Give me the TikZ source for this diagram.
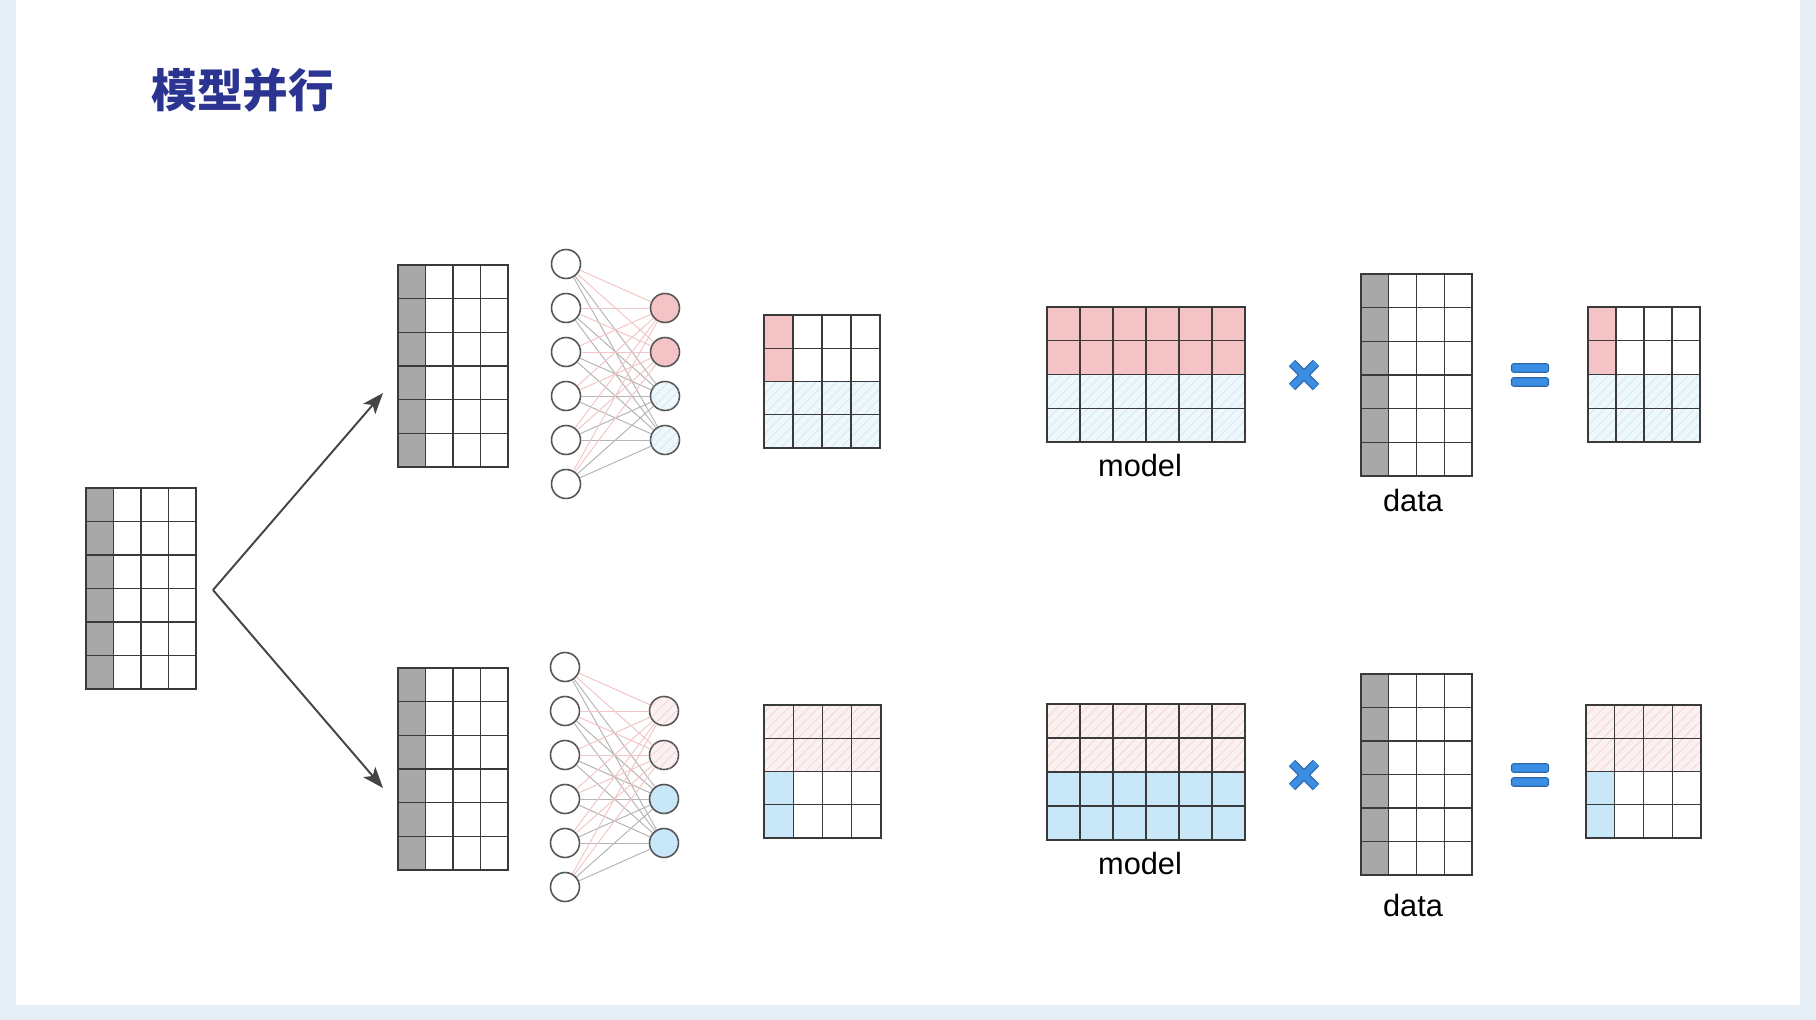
\documentclass[tikz,border=0pt]{standalone}
\usepackage{fontspec}
\setmainfont{Liberation Sans}
\newfontfamily\cjk{Noto Sans CJK SC}
\usetikzlibrary{patterns.meta,arrows.meta}
\definecolor{pinkf}{HTML}{F4C3C5}
\definecolor{bluef}{HTML}{C8E7F9}
\definecolor{bluelight}{HTML}{EEF8FC}
\definecolor{bluehatch}{HTML}{B3DAEA}
\definecolor{pinklight}{HTML}{FCF1F1}
\definecolor{pinkhatch}{HTML}{EBBDBD}
\definecolor{grayf}{HTML}{A8A8A8}
\definecolor{gridc}{HTML}{3A3A3A}
\definecolor{titlec}{HTML}{2B3490}
\definecolor{xblue}{HTML}{3C8EE3}
\definecolor{xdark}{HTML}{2A68AE}
\definecolor{edgepink}{HTML}{F2C6C6}
\definecolor{edgegray}{HTML}{B5B5B5}
\definecolor{circd}{HTML}{555555}
\definecolor{slidebg}{HTML}{E6EFF6}
\definecolor{arrc}{HTML}{444444}
\newcommand\mgrid[7]{%
  \node[matnode, minimum width={#4*0.02cm}, minimum height={#5*0.02cm}] (#1) at ({#2+#4/2},{#3+#5/2}) {};
  \foreach \ii in {0,...,#6} \draw[gl] ({#2+\ii*#4/#6},#3) -- ++(0,#5);
  \foreach \jj in {0,...,#7} \draw[gl] (#2,{#3+\jj*#5/#7}) -- ++(#4,0);
}
\begin{document}
\begin{tikzpicture}[x=0.02cm,y=-0.02cm,
  gl/.style={draw=gridc, line width=0.75pt, line cap=rect},
  matnode/.style={rectangle, draw=none, inner sep=0pt, outer sep=0pt},
  grayc/.style={fill=grayf},
  pinkc/.style={fill=pinkf},
  bluec/.style={fill=bluef},
  hblue/.style={fill=bluelight, postaction={pattern={Lines[angle=45,distance=4pt,line width=0.35pt]}, pattern color=bluehatch}},
  hpink/.style={fill=pinklight, postaction={pattern={Lines[angle=45,distance=4pt,line width=0.35pt]}, pattern color=pinkhatch}},
  neuron/.style={circle, draw=circd, line width=0.9pt, minimum size=0.58cm, inner sep=0pt, fill=white},
  npink/.style={neuron, fill=pinkf},
  nblue/.style={neuron, fill=bluef},
  nhblue/.style={neuron, hblue},
  nhpink/.style={neuron, hpink},
  epink/.style={draw=edgepink, line width=0.55pt},
  egray/.style={draw=edgegray, line width=0.55pt},
  arr/.style={draw=arrc, line width=1.1pt, -{Stealth[length=12pt,width=9pt,inset=3pt]}},
  lbl/.style={font=\fontsize{17.5}{20}\selectfont, text=black, inner sep=0pt},
  xsym/.style={line width=5.2pt, draw=xdark},
  xsymin/.style={line width=3.8pt, draw=xblue},
  eqbar/.style={fill=xblue, draw=xdark, line width=0.6pt, rounded corners=1.2pt}
]
\useasboundingbox (0,0) rectangle (1816,1020);
\fill[slidebg] (0,0) rectangle (1816,1020);
\fill[white] (16,0) rectangle (1800,1005);

% title
\node[anchor=west, font=\cjk\bfseries\fontsize{26}{30}\selectfont, text=titlec, inner sep=0pt] (title) at (151,90) {模型并行};

% ---------- input matrix ----------
\fill[grayc] (86,488) rectangle (113.5,689);
\mgrid{L}{86}{488}{110}{201}{4}{6}

% ---------- branch matrices ----------
\fill[grayc] (398,265) rectangle (425.5,467);
\mgrid{T1}{398}{265}{110}{202}{4}{6}
\fill[grayc] (398,668) rectangle (425.5,870);
\mgrid{B1}{398}{668}{110}{202}{4}{6}

% arrows
\coordinate (split) at (213,590);
\coordinate (tend) at (383,393);
\coordinate (bend) at (383,788);
\draw[arr] (split) -- (tend);
\draw[arr] (split) -- (bend);

% ---------- networks ----------
\foreach \k/\yy in {1/264,2/308,3/352,4/396,5/440,6/484}
  \node[neuron] (ta\k) at (566,\yy) {};
\node[npink] (tb1) at (665,308) {};
\node[npink] (tb2) at (665,352) {};
\node[nhblue] (tb3) at (665,396) {};
\node[nhblue] (tb4) at (665,440) {};
\foreach \k in {1,...,6}{
  \foreach \m in {3,4} \draw[egray] (ta\k) -- (tb\m);
  \foreach \m in {1,2} \draw[epink] (ta\k) -- (tb\m);
}

\foreach \k/\yy in {1/667,2/711,3/755,4/799,5/843,6/887}
  \node[neuron] (ba\k) at (565,\yy) {};
\node[nhpink] (bb1) at (664,711) {};
\node[nhpink] (bb2) at (664,755) {};
\node[nblue] (bb3) at (664,799) {};
\node[nblue] (bb4) at (664,843) {};
\foreach \k in {1,...,6}{
  \foreach \m in {3,4} \draw[egray] (ba\k) -- (bb\m);
  \foreach \m in {1,2} \draw[epink] (ba\k) -- (bb\m);
}

% ---------- small results ----------
\fill[pinkc] (764,315) rectangle (793,381.5);
\fill[hblue] (764,381.5) rectangle (880,448);
\mgrid{R1}{764}{315}{116}{133}{4}{4}
\fill[hpink] (764,705) rectangle (881,771.5);
\fill[bluec] (764,771.5) rectangle (793.25,838);
\mgrid{R2}{764}{705}{117}{133}{4}{4}

% ---------- model matrices ----------
\fill[pinkc] (1047,307) rectangle (1245,374.5);
\fill[hblue] (1047,374.5) rectangle (1245,442);
\mgrid{M1}{1047}{307}{198}{135}{6}{4}
\node[lbl] (m1lab) at (1140,466) {model};
\fill[hpink] (1047,704) rectangle (1245,772);
\fill[bluec] (1047,772) rectangle (1245,840);
\mgrid{M2}{1047}{704}{198}{136}{6}{4}
\node[lbl] (m2lab) at (1140,864) {model};

% times symbols
\coordinate (x1) at (1304,375);
\coordinate (x2) at (1304,775);
\foreach \c in {x1,x2}{
  \draw[xsym] (\c) ++(-12,-12) -- ++(24,24);
  \draw[xsym] (\c) ++(-12,12) -- ++(24,-24);
  \draw[xsymin] (\c) ++(-12,-12) -- ++(24,24);
  \draw[xsymin] (\c) ++(-12,12) -- ++(24,-24);
}

% ---------- data matrices ----------
\fill[grayc] (1361,274) rectangle (1388.75,476);
\mgrid{D1}{1361}{274}{111}{202}{4}{6}
\node[lbl] (d1lab) at (1413,501) {data};
\fill[grayc] (1361,674) rectangle (1388.75,875);
\mgrid{D2}{1361}{674}{111}{201}{4}{6}
\node[lbl] (d2lab) at (1413,906) {data};

% equals symbols
\node[eqbar, minimum width=0.74cm, minimum height=0.17cm, inner sep=0pt] (e1a) at (1530,368) {};
\node[eqbar, minimum width=0.74cm, minimum height=0.17cm, inner sep=0pt] (e1b) at (1530,382) {};
\node[eqbar, minimum width=0.74cm, minimum height=0.17cm, inner sep=0pt] (e2a) at (1530,768) {};
\node[eqbar, minimum width=0.74cm, minimum height=0.17cm, inner sep=0pt] (e2b) at (1530,782) {};

% ---------- final results ----------
\fill[pinkc] (1588,307) rectangle (1616,374.5);
\fill[hblue] (1588,374.5) rectangle (1700,442);
\mgrid{F1}{1588}{307}{112}{135}{4}{4}
\fill[hpink] (1586,705) rectangle (1701,771.5);
\fill[bluec] (1586,771.5) rectangle (1614.75,838);
\mgrid{F2}{1586}{705}{115}{133}{4}{4}
\end{tikzpicture}
\end{document}
